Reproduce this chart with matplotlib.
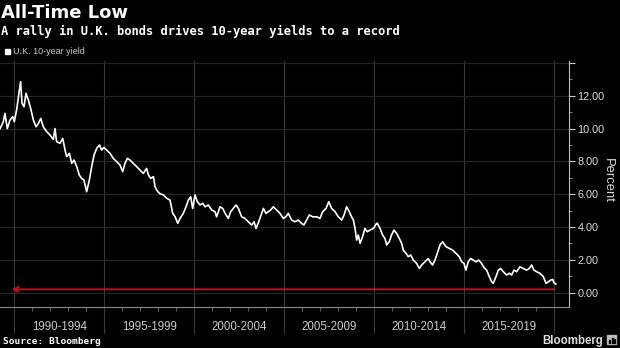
import matplotlib
matplotlib.use("Agg")
import matplotlib.pyplot as plt
from matplotlib.patches import Rectangle

# U.K. 10-year gilt yield, percent
years = [
    1989.21, 1989.39, 1989.48, 1989.61, 1989.76, 1989.91, 1990.00, 1990.13, 1990.23, 1990.35,
    1990.43, 1990.54, 1990.65, 1990.78, 1990.91, 1991.06, 1991.21, 1991.34, 1991.47, 1991.61,
    1991.80, 1991.98, 1992.17, 1992.26, 1992.35, 1992.54, 1992.69, 1992.82, 1992.91, 1993.06,
    1993.19, 1993.32, 1993.47, 1993.61, 1993.74, 1993.87, 1994.02, 1994.17, 1994.30, 1994.43,
    1994.58, 1994.73, 1994.85, 1994.98, 1995.13, 1995.32, 1995.50, 1995.69, 1995.87, 1996.02,
    1996.15, 1996.28, 1996.43, 1996.61, 1996.80, 1996.98, 1997.17, 1997.35, 1997.45, 1997.58,
    1997.73, 1997.82, 1997.91, 1998.06, 1998.28, 1998.47, 1998.65, 1998.80, 1998.93, 1999.08,
    1999.21, 1999.39, 1999.54, 1999.67, 1999.80, 1999.91, 2000.04, 2000.17, 2000.32, 2000.47,
    2000.60, 2000.78, 2000.97, 2001.15, 2001.24, 2001.43, 2001.58, 2001.71, 2001.89, 2002.02,
    2002.17, 2002.32, 2002.45, 2002.63, 2002.82, 2003.00, 2003.19, 2003.32, 2003.43, 2003.58,
    2003.71, 2003.84, 2003.98, 2004.11, 2004.24, 2004.39, 2004.58, 2004.76, 2004.95, 2005.09,
    2005.22, 2005.41, 2005.59, 2005.78, 2005.96, 2006.09, 2006.24, 2006.39, 2006.58, 2006.80,
    2006.98, 2007.13, 2007.32, 2007.47, 2007.63, 2007.82, 2008.00, 2008.19, 2008.32, 2008.46,
    2008.61, 2008.74, 2008.84, 2008.93, 2009.02, 2009.11, 2009.21, 2009.35, 2009.48, 2009.61,
    2009.76, 2009.95, 2010.13, 2010.17, 2010.32, 2010.46, 2010.59, 2010.69, 2010.83, 2010.96,
    2011.09, 2011.24, 2011.39, 2011.52, 2011.61, 2011.76, 2011.89, 2012.02, 2012.17, 2012.35,
    2012.50, 2012.63, 2012.82, 2013.00, 2013.09, 2013.24, 2013.37, 2013.50, 2013.65, 2013.80,
    2013.98, 2014.17, 2014.35, 2014.54, 2014.72, 2014.85, 2014.98, 2015.09, 2015.22, 2015.35,
    2015.50, 2015.65, 2015.80, 2015.96, 2016.09, 2016.24, 2016.39, 2016.52, 2016.61, 2016.76,
    2016.89, 2017.02, 2017.17, 2017.35, 2017.50, 2017.63, 2017.76, 2017.91, 2018.09, 2018.28,
    2018.46, 2018.61, 2018.74, 2018.87, 2019.02, 2019.20, 2019.39, 2019.54, 2019.67, 2019.80,
    2019.91, 2019.98, 2020.09,
]
yields = [
    10.00, 10.42, 10.93, 10.00, 10.52, 10.73, 10.42, 11.13, 11.94, 12.86,
    11.54, 11.33, 12.15, 11.74, 11.23, 10.52, 10.11, 10.32, 10.62, 10.11,
    9.81, 9.61, 9.34, 10.00, 9.20, 9.10, 9.40, 8.69, 8.29, 8.49,
    7.88, 8.08, 7.68, 7.17, 6.96, 6.86, 6.15, 6.86, 7.68, 8.39,
    8.80, 9.00, 8.69, 8.85, 8.69, 8.49, 8.18, 7.98, 7.78, 7.37,
    7.88, 8.18, 8.08, 7.88, 7.68, 7.47, 7.27, 7.57, 7.17, 6.96,
    7.07, 6.46, 6.25, 6.05, 5.95, 5.75, 5.64, 4.83, 4.63, 4.22,
    4.52, 4.83, 5.23, 5.64, 5.84, 5.13, 5.95, 5.54, 5.34, 5.44,
    5.23, 5.34, 5.03, 4.93, 4.62, 5.23, 5.13, 4.83, 4.52, 4.93,
    5.13, 5.34, 5.13, 4.62, 4.52, 4.32, 4.12, 4.32, 3.91, 4.32,
    4.73, 5.13, 4.83, 4.93, 5.03, 5.23, 5.03, 4.83, 4.52, 4.62,
    4.83, 4.42, 4.32, 4.42, 4.22, 4.12, 4.42, 4.73, 4.62, 4.62,
    4.52, 4.93, 5.13, 5.54, 5.13, 4.93, 4.62, 4.42, 4.73, 5.23,
    4.93, 4.62, 4.42, 3.91, 3.20, 3.51, 3.00, 3.41, 3.91, 3.71,
    3.81, 3.91, 4.22, 4.22, 3.91, 3.51, 3.30, 2.90, 3.10, 3.51,
    3.81, 3.61, 3.30, 3.00, 2.59, 2.39, 2.19, 2.29, 1.98, 1.78,
    1.47, 1.68, 1.88, 2.08, 1.88, 1.68, 1.98, 2.39, 2.90, 3.10,
    2.80, 2.69, 2.59, 2.39, 2.19, 1.88, 1.78, 1.37, 1.88, 2.08,
    1.98, 1.88, 1.98, 1.78, 1.53, 1.37, 0.97, 0.66, 0.56, 0.97,
    1.37, 1.47, 1.27, 1.07, 1.17, 1.07, 1.37, 1.27, 1.57, 1.47,
    1.37, 1.47, 1.68, 1.37, 1.27, 1.17, 0.97, 0.56, 0.66, 0.76,
    0.80, 0.60, 0.52,
]

period_starts = [1990, 1995, 2000, 2005, 2010, 2015]
period_labels = ["1990-1994", "1995-1999", "2000-2004", "2005-2009", "2010-2014", "2015-2019"]
record_level = 0.2

W, H = 620, 348
fig = plt.figure(figsize=(W / 100, H / 100), dpi=100, facecolor="black")
ax = fig.add_axes([0, 1 - 307 / H, 569 / W, (307 - 61) / H])
ax.set_facecolor("black")
ax.set_xlim(1989.206, 2020.817)
ax.set_ylim(-0.88, 14.12)

for side in ("top", "left"):
    ax.spines[side].set_visible(False)
ax.spines["right"].set_color("#bbbbbb")
ax.spines["bottom"].set_color("#8a8a8a")

# right-hand percent axis
ax.yaxis.tick_right()
ax.set_yticks(range(0, 15, 2))
ax.set_yticklabels([f"{v:.2f}" if v <= 12 else "" for v in range(0, 15, 2)],
                   family="Liberation Sans")
ax.set_yticks(range(1, 15, 2), minor=True)
ax.tick_params(axis="y", which="major", length=4, color="#cccccc",
               labelcolor="#dddddd", labelsize=7.8, pad=2)
ax.tick_params(axis="y", which="minor", length=2, color="#999999")
ax.grid(axis="y", which="major", color="#262626", lw=0.8)
ax.set_axisbelow(True)

# yearly ticks on the bottom, 5-year separators run down through the labels
ax.set_xticks([])
ax.set_xticks([y for y in range(1990, 2021) if y % 5], minor=True)
ax.tick_params(axis="x", which="minor", length=3, color="#777777")
xt = ax.get_xaxis_transform()
for y0 in period_starts + [2020]:
    ax.plot([y0, y0], [1, -0.1057], transform=xt, color="#383838",
            lw=0.8, clip_on=False, zorder=0.5)
for y0, lab in zip(period_starts, period_labels):
    ax.text(y0 + 2.5, -0.081, lab, transform=xt, ha="center", va="center",
            color="#cccccc", fontsize=8.3, family="Liberation Sans")

ax.plot(years, yields, color="white", lw=1.2, zorder=3)

ax.annotate("", xy=(1989.86, record_level), xytext=(2020.0, record_level),
            arrowprops=dict(arrowstyle="->", color="#d01010", lw=1.3,
                            mutation_scale=9, shrinkA=0, shrinkB=0),
            zorder=4)

# header, legend and footer
fig.text(0.002, 1 - 18 / H, "All-Time Low", color="white", fontsize=13,
         fontweight="bold", family="DejaVu Sans", va="baseline")
fig.text(0.002, 1 - 35 / H, "A rally in U.K. bonds drives 10-year yields to a record",
         color="white", fontsize=8.7, fontweight="bold", family="DejaVu Sans Mono",
         va="baseline")
fig.patches.append(Rectangle((5 / W, 1 - 54 / H), 5 / W, 5 / H, color="white",
                             transform=fig.transFigure))
fig.text(13 / W, 1 - 54.5 / H, "U.K. 10-year yield", color="#cccccc",
         fontsize=6.5, family="Liberation Sans", va="baseline")
fig.text(608 / W, 1 - 180 / H, "Percent", rotation=270, ha="center", va="center",
         color="#dddddd", fontsize=9.4, family="Liberation Sans")
fig.text(3 / W, 1 - 344 / H, "Source: Bloomberg", color="white", fontsize=6.8,
         fontweight="bold", family="DejaVu Sans Mono", va="baseline")
fig.text(603 / W, 1 - 344 / H, "Bloomberg", color="#dddddd", fontsize=8.3,
         fontweight="bold", family="Liberation Sans", ha="right", va="baseline")
fig.patches.append(Rectangle((607 / W, 1 - 344 / H), 9 / W, 9 / H, color="#bbbbbb",
                             transform=fig.transFigure))
for bx, bh in [(609, 3), (611.5, 5), (614, 4)]:
    fig.patches.append(Rectangle((bx / W, 1 - 343 / H), 1.2 / W, bh / H,
                                 color="black", transform=fig.transFigure))

fig.savefig("out.png", dpi=100, facecolor="black")
